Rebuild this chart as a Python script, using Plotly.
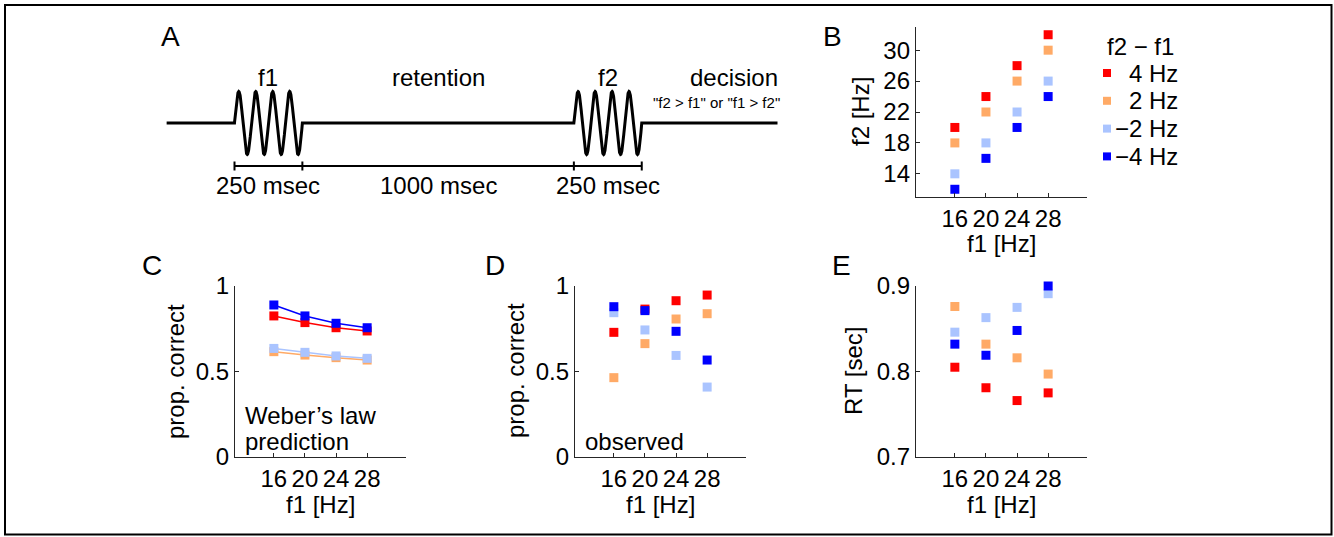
import numpy as np
import plotly.graph_objects as go

W, H = 1334, 537
FONT = "Liberation Sans, Arial, Helvetica, sans-serif"
FS = 24

# ---------------- data ----------------
f1_hz = [16, 20, 24, 28]
delta_labels = ["4 Hz", "2 Hz", "\u22122 Hz", "\u22124 Hz"]
colors = ["#FF0000", "#FFAA66", "#AAC4FF", "#0000FF"]

# Panel B: f2 for each f1
f2_plus4 = [20, 24, 28, 32]
f2_plus2 = [18, 22, 26, 30]
f2_minus2 = [14, 18, 22, 26]
f2_minus4 = [12, 16, 20, 24]

# Panel C: Weber's law prediction (prop. correct)
weber_plus4 = [0.825, 0.786, 0.756, 0.737]
weber_plus2 = [0.616, 0.596, 0.581, 0.567]
weber_minus2 = [0.635, 0.612, 0.591, 0.577]
weber_minus4 = [0.889, 0.825, 0.782, 0.756]

# Panel D: observed prop. correct
obs_plus4 = [0.729, 0.865, 0.914, 0.947]
obs_plus2 = [0.464, 0.663, 0.807, 0.838]
obs_minus2 = [0.844, 0.743, 0.594, 0.409]
obs_minus4 = [0.879, 0.856, 0.735, 0.567]

# Panel E: reaction time [sec]
rt_plus4 = [0.805, 0.781, 0.766, 0.775]
rt_plus2 = [0.876, 0.832, 0.816, 0.797]
rt_minus2 = [0.846, 0.863, 0.875, 0.891]
rt_minus4 = [0.832, 0.819, 0.848, 0.900]

# Panel A: trial timing (msec)
pre_ms = 250
f1_ms = 250
retention_ms = 1000
f2_ms = 250
post_ms = 500
n_cycles = 4

# ---------------- helpers ----------------
def dx(p0, p1):
    return [p0 / W, p1 / W]

def dy(top, bot):
    return [1 - bot / H, 1 - top / H]

def px(x):
    return x / W

def py(y):
    return 1 - y / H

fig = go.Figure()

# ---------------- Panel A (schematic) ----------------
A_X0, A_SCALE = 234.5, 0.2715
A_BASE, A_AMP = 123.0, 31.5
a_dom_x = (160, 800)
a_dom_y = (55, 205)
a_xrange = [(a_dom_x[0] - A_X0) / A_SCALE, (a_dom_x[1] - A_X0) / A_SCALE]
a_yrange = [(A_BASE - a_dom_y[1]) / A_AMP, (A_BASE - a_dom_y[0]) / A_AMP]

t1_start = 0
t1_end = t1_start + f1_ms
t2_start = t1_end + retention_ms
t2_end = t2_start + f2_ms

def wave(t0, dur):
    t = np.linspace(t0, t0 + dur, 600)
    return list(t), list(np.sin(2 * np.pi * n_cycles * (t - t0) / dur))

wx1, wy1 = wave(t1_start, f1_ms)
wx2, wy2 = wave(t2_start, f2_ms)
line_x = [t1_start - pre_ms] + wx1 + wx2 + [t2_end + post_ms]
line_y = [0] + wy1 + wy2 + [0]
fig.add_trace(go.Scatter(x=line_x, y=line_y, mode="lines",
                         line=dict(color="black", width=3),
                         xaxis="x", yaxis="y", hoverinfo="skip", showlegend=False))

br_y = (A_BASE - 166) / A_AMP
br_d = 4.5 / A_AMP
edges = [t1_start, t1_end, t2_start, t2_end]
bx, by = [edges[0], edges[-1]], [br_y, br_y]
for e in edges:
    bx += [None, e, e]
    by += [None, br_y - br_d, br_y + br_d]
fig.add_trace(go.Scatter(x=bx, y=by, mode="lines",
                         line=dict(color="black", width=2),
                         xaxis="x", yaxis="y", hoverinfo="skip", showlegend=False))

def a_text(t, ypix, s, size=FS):
    fig.add_annotation(x=t, xref="x", y=py(ypix), yref="paper", text=s,
                       showarrow=False, xanchor="center", yanchor="middle",
                       font=dict(family=FONT, size=size, color="black"))

a_text((t1_start + t1_end) / 2, 77, "f1")
a_text((t1_end + t2_start) / 2, 77, "retention")
a_text((t2_start + t2_end) / 2, 77, "f2")
a_text(t2_end + 340, 77, "decision")
a_text(t2_end + 275, 102, "\"f2 > f1\" or \"f1 > f2\"", size=15)
a_text((t1_start + t1_end) / 2, 186, f"{f1_ms} msec")
a_text((t1_end + t2_start) / 2, 186, f"{retention_ms} msec")
a_text((t2_start + t2_end) / 2, 186, f"{f2_ms} msec")

# ---------------- data panels ----------------
AX_COLOR = "#262626"

def data_axes(xname, yname, xd, yd, yrange, yticks, yticktext):
    common = dict(showgrid=False, zeroline=False, showline=True, linecolor=AX_COLOR,
                  linewidth=1.3, ticks="inside", ticklen=4, tickwidth=1,
                  tickcolor=AX_COLOR, automargin=False,
                  tickfont=dict(family=FONT, size=FS, color="black"))
    fig.layout[xname] = dict(domain=dx(*xd), range=[11, 33], tickvals=f1_hz,
                             ticktext=[str(v) for v in f1_hz],
                             anchor=yname.replace("axis", ""), **common)
    fig.layout[yname] = dict(domain=dy(*yd), range=yrange, tickvals=yticks,
                             ticktext=yticktext,
                             anchor=xname.replace("axis", ""), **common)

data_axes("xaxis2", "yaxis2", (916, 1087), (27, 197), [11, 33],
          [14, 18, 22, 26, 30], ["14", "18", "22", "26", "30"])
data_axes("xaxis3", "yaxis3", (235, 406), (286, 457), [0, 1],
          [0, 0.5, 1], ["0", "0.5", "1"])
data_axes("xaxis4", "yaxis4", (575, 746), (286, 457), [0, 1],
          [0, 0.5, 1], ["0", "0.5", "1"])
data_axes("xaxis5", "yaxis5", (916, 1087), (286, 457), [0.7, 0.9],
          [0.7, 0.8, 0.9], ["0.7", "0.8", "0.9"])

panel_B = [f2_plus4, f2_plus2, f2_minus2, f2_minus4]
panel_C = [weber_plus4, weber_plus2, weber_minus2, weber_minus4]
panel_D = [obs_plus4, obs_plus2, obs_minus2, obs_minus4]
panel_E = [rt_plus4, rt_plus2, rt_minus2, rt_minus4]

MS = 9
for series, ax, mode in [(panel_B, "2", "markers"), (panel_C, "3", "lines+markers"),
                         (panel_D, "4", "markers"), (panel_E, "5", "markers")]:
    for vals, col, lab in zip(series, colors, delta_labels):
        fig.add_trace(go.Scatter(x=f1_hz, y=vals, mode=mode, name=lab,
                                 marker=dict(symbol="square", size=MS, color=col,
                                             line=dict(width=0)),
                                 line=dict(color=col, width=1.5),
                                 xaxis="x" + ax, yaxis="y" + ax,
                                 cliponaxis=False, showlegend=False))

# ---------------- overlay axis in pixel coords (legend keys) ----------------
fig.layout["xaxis6"] = dict(domain=[0, 1], range=[0, W], visible=False, fixedrange=True,
                            anchor="y6")
fig.layout["yaxis6"] = dict(domain=[0, 1], range=[H, 0], visible=False, fixedrange=True,
                            anchor="x6")

LEG_X, LEG_Y0, LEG_DY = 1107, 73, 27.8
for i, (col, lab) in enumerate(zip(colors, delta_labels)):
    yk = LEG_Y0 + i * LEG_DY
    fig.add_trace(go.Scatter(x=[LEG_X], y=[yk], mode="markers",
                             marker=dict(symbol="square", size=8, color=col, line=dict(width=0)),
                             xaxis="x6", yaxis="y6", hoverinfo="skip", showlegend=False))
    fig.add_annotation(x=px(1180), y=py(yk), xref="paper", yref="paper", text=lab,
                       showarrow=False, xanchor="right", yanchor="middle",
                       font=dict(family=FONT, size=FS, color="black"))
fig.add_annotation(x=px(1140), y=py(46), xref="paper", yref="paper", text="f2 \u2212 f1",
                   showarrow=False, xanchor="center", yanchor="middle",
                   font=dict(family=FONT, size=FS, color="black"))

# ---------------- texts ----------------
def txt(xp, yp, s, size=FS, xanchor="center", angle=0):
    fig.add_annotation(x=px(xp), y=py(yp), xref="paper", yref="paper", text=s,
                       showarrow=False, xanchor=xanchor, yanchor="middle", textangle=angle,
                       font=dict(family=FONT, size=size, color="black"))

for letter, (xp, yp) in {"A": (170, 37), "B": (832, 36), "C": (152, 265),
                         "D": (495, 265), "E": (841, 265)}.items():
    txt(xp, yp, letter, size=28)

txt(860, 112, "f2 [Hz]", angle=-90)
txt(1001, 243, "f1 [Hz]")
txt(175, 371, "prop. correct", angle=-90)
txt(320, 504, "f1 [Hz]")
txt(515, 371, "prop. correct", angle=-90)
txt(660, 504, "f1 [Hz]")
txt(853, 371, "RT [sec]", angle=-90)
txt(1001, 504, "f1 [Hz]")

txt(243, 415, "Weber\u2019s law", xanchor="left")
txt(243, 441, "prediction", xanchor="left")
txt(583, 441, "observed", xanchor="left")

# ---------------- layout ----------------
fig.update_layout(
    width=W, height=H, autosize=False,
    margin=dict(l=0, r=0, t=0, b=0, pad=0, autoexpand=False),
    paper_bgcolor="white", plot_bgcolor="rgba(0,0,0,0)",
    showlegend=False,
    xaxis=dict(domain=dx(*a_dom_x), range=a_xrange, visible=False, fixedrange=True),
    yaxis=dict(domain=dy(*a_dom_y), range=a_yrange, visible=False, fixedrange=True),
    shapes=[dict(type="rect", xref="paper", yref="paper",
                 x0=px(5), x1=px(1331.5), y0=py(534.5), y1=py(5),
                 line=dict(color="black", width=2))],
)

pin_js = (
    "document.documentElement.style.margin='0';"
    "document.body.style.margin='0';document.body.style.padding='0';"
    "document.body.style.overflow='hidden';"
    "var gd=document.getElementById('{plot_id}');"
    "gd.style.position='absolute';gd.style.left='0px';gd.style.top='0px';"
)
fig.write_html("out.html", post_script=pin_js,
               config={"displayModeBar": False, "responsive": False})
